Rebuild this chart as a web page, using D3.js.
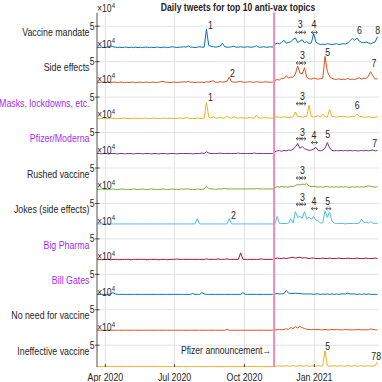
<!DOCTYPE html>
<html><head><meta charset="utf-8">
<script src="https://cdn.jsdelivr.net/npm/d3@7"></script>
<style>
body{margin:0;background:#fff}
svg text{font-family:"Liberation Sans Narrow","Arial Narrow","Liberation Sans",Arial,sans-serif;fill:#262626}
</style></head><body><svg id="c" width="382" height="382"></svg>
<script>
// ---------- DATA (values in thousands of tweets, one value every 3 days from 2020-03-21) ----------
const topics = ["Vaccine mandate","Side effects","Masks, lockdowns, etc.","Pfizer/Moderna","Rushed vaccine",
  "Jokes (side effects)","Big Pharma","Bill Gates","No need for vaccine","Ineffective vaccine"];
const startDate = "2020-03-21";
const endDate = "2021-03-27";
const stepDays = 3;
const vaccineMandate = [2,1,2,1,2,3,5,3,2,1, 2,1,2,2,1,2,1,2,1,2, 1,2,2,1,2,1,2,2,1,2, 2,1,2,3,2,1,2,2,3,2,
  5,2,2,1,2,3,2,2,43,6, 4,3,2,3,4,11,3,2,2,3, 4,2,2,3,2,2,3,2,2,3, 5,2,2,3,2,2,3,2,
  9,11,10,13,18,11,13,14,20,23, 13,16,19,12,15,10,12,33,14,10, 8,9,8,10,9,8,9,10,8,9,
  10,9,12,17,22,18,23,16,13,12, 14,12,10,12,14,26];
const sideEffects = [3,2,3,3,2,3,2,3,3,2, 3,3,2,3,2,3,3,2,3,3, 2,3,3,2,3,3,2,3,4,5, 3,3,2,3,3,2,3,3,4,3,
  5,3,3,2,3,3,3,2,4,3, 5,6,3,3,4,3,4,5,15,4, 3,3,4,5,3,3,3,4,3,3, 4,3,3,3,4,3,3,3,
  7,9,8,12,11,18,12,15,14,22, 40,24,22,36,14,11,10,12,11,10, 11,12,62,28,16,12,10,9,11,9,
  10,9,12,9,10,9,11,13,10,12, 11,17,27,18,10,11];
const masksLockdowns = [1,1,1,2,1,1,2,1,1,1, 1,1,2,1,1,1,1,2,1,1, 1,2,1,1,1,2,1,1,1,2, 1,1,2,1,1,1,2,2,1,3,
  2,1,1,1,2,1,1,2,37,5, 2,5,2,2,3,2,2,7,3,2, 5,2,2,3,2,2,2,3,2,2, 9,2,2,2,3,2,2,2,
  4,5,4,3,5,4,3,4,5,16, 5,6,4,5,6,31,5,4,6,7, 4,11,5,4,22,6,5,4,6,5,
  6,5,4,5,6,5,11,6,5,4, 4,5,4,3,4,5];
const pfizerModerna = [2,2,1,2,2,1,2,2,2,1, 2,2,1,2,2,2,1,2,2,2, 1,2,2,2,1,2,2,1,2,2, 2,1,2,2,2,1,2,2,2,2,
  2,2,1,2,2,2,3,2,6,3, 2,2,2,2,3,2,2,2,2,2, 2,2,3,2,2,2,2,2,2,3, 2,2,2,2,2,2,2,2,
  6,8,9,7,9,8,10,9,12,17, 25,14,18,13,11,9,10,12,16,9, 8,10,14,27,15,9,8,9,8,9,
  8,9,8,9,8,9,8,8,9,8, 9,8,9,10,8,9];
const rushedVaccine = [1,1,2,1,1,1,1,2,1,1, 1,2,1,1,1,1,2,1,1,1, 2,1,1,1,2,1,1,1,1,2, 1,1,1,2,1,1,1,2,1,2,
  2,1,1,1,2,1,1,2,8,3, 2,2,1,2,2,2,3,2,2,2, 2,2,2,2,2,2,2,2,2,2, 3,2,2,2,2,2,2,2,
  5,7,6,8,6,7,6,8,7,10, 12,11,13,12,14,9,7,8,7,6, 7,6,7,8,6,7,6,7,6,7,
  6,7,6,6,7,6,7,6,7,6, 8,9,8,7,6,7];
const jokesSideEffects = [3,3,3,3,3,3,3,3,3,3, 3,3,3,3,3,3,3,3,3,3, 3,3,3,3,3,3,3,3,3,3, 3,3,3,3,3,3,3,3,3,3,
  3,3,3,3,15,3,3,3,3,3, 3,3,3,3,3,3,3,3,15,3, 3,3,3,3,3,3,3,3,3,3, 3,3,3,3,3,3,3,3,
  3,20,4,4,4,4,5,15,5,31, 18,20,16,31,15,18,14,20,12,10, 5,6,33,18,30,10,5,4,4,4,
  4,3,4,4,4,4,4,5,14,6, 7,5,8,5,4,4];
const bigPharma = [3,3,2,3,3,3,2,3,3,3, 2,3,3,3,3,2,3,3,3,3, 3,3,2,3,3,3,3,2,3,3, 3,2,3,3,3,4,3,3,3,3,
  3,3,3,3,3,3,3,3,4,3, 3,3,3,4,3,3,3,4,3,3, 3,3,3,18,3,3,3,3,3,3, 3,3,4,3,3,3,3,3,
  5,6,5,5,6,5,6,7,8,6, 7,8,6,7,6,5,6,6,5,5, 5,6,5,5,6,5,5,5,6,5,
  5,5,6,5,5,5,6,5,5,5, 6,5,5,5,6,5];
const billGates = [4,4,4,4,4,4,5,8,5,4, 4,4,4,4,4,4,4,4,4,4, 4,4,4,4,4,4,4,4,4,4, 4,4,4,4,4,4,4,4,4,4,
  4,4,6,4,4,4,8,5,4,4, 4,4,4,4,4,4,4,4,4,4, 4,4,4,4,8,4,4,4,4,4, 4,4,4,4,4,4,4,4,
  5,6,5,5,6,13,7,6,6,7, 6,6,5,5,5,5,5,4,5,5, 4,5,4,5,4,5,4,5,4,5,
  5,5,7,5,5,5,4,5,4,5, 4,5,4,4,4,4];
const noNeedForVaccine = [3,3,3,3,3,3,3,3,3,3, 3,3,3,3,3,3,3,3,3,3, 3,3,3,3,3,3,3,3,3,3, 3,3,3,3,3,3,3,3,3,3,
  3,3,3,3,3,3,3,3,3,3, 3,3,3,3,3,3,3,5,3,3, 3,3,3,3,3,3,3,3,3,3, 3,3,3,3,3,3,3,3,
  4,4,5,4,5,6,5,9,7,11, 8,12,9,7,5,5,4,5,4,5, 4,4,5,4,4,5,4,5,4,4,
  4,5,4,4,4,4,4,5,4,4, 4,4,6,5,4,4];
const ineffectiveVaccine = [1,1,1,1,1,1,1,1,1,1, 1,1,1,1,1,1,1,1,1,1, 1,1,1,1,1,1,1,1,1,1, 1,1,1,1,1,1,1,1,1,1,
  1,1,1,1,1,1,1,1,1,1, 1,1,1,1,1,1,1,1,1,1, 1,1,1,1,1,1,1,1,1,1, 1,1,1,1,1,1,1,1,
  2,2,3,2,2,3,2,2,3,2, 2,3,2,2,3,2,2,3,2,3, 2,3,37,3,2,2,3,2,2,3,
  2,2,3,2,2,3,2,2,3,2, 2,3,2,2,3,12];
const seriesValues = [vaccineMandate, sideEffects, masksLockdowns, pfizerModerna, rushedVaccine,
  jokesSideEffects, bigPharma, billGates, noNeedForVaccine, ineffectiveVaccine];
const yTickValues = [50];           // thousands -> "5" x10^4
const yTickLabels = ["5"];
const xTickDates = ["2020-04-01","2020-07-01","2020-10-01","2021-01-01"];
const xTickLabels = ["Apr 2020","Jul 2020","Oct 2020","Jan 2021"];
const announcementDate = "2020-11-09";
const announcementText = "Pfizer announcement\u2192";
const titleText = "Daily tweets for top 10 anti-vax topics";
// event number labels: panel, text, date, level (thousands)
const eventLabels = [
  [0,"1","2020-08-18",52],[0,"3","2020-12-14",54],[0,"4","2021-01-01",54],[0,"6","2021-03-02",42],[0,"8","2021-03-26",42],
  [1,"2","2020-09-16",24],[1,"3","2020-12-17",65],[1,"5","2021-01-19",72],[1,"7","2021-03-21",46],
  [2,"1","2020-08-18",49],[2,"3","2020-12-17",51],[2,"6","2021-02-27",31],
  [3,"3","2020-12-17",51],[3,"4","2021-01-01",44],[3,"5","2021-01-19",46],[3,"7","2021-03-22",26],
  [4,"3","2020-12-17",45],
  [5,"2","2020-09-17",23],[5,"3","2020-12-17",65],[5,"4","2021-01-01",56],[5,"5","2021-01-19",56],
  [9,"5","2021-01-19",48],[9,"78","2021-03-24",25]
];
// event date ranges drawn as double arrows: panel, start, end, level (thousands), number of arrows
const eventRanges = [
  [0,"2020-12-07","2020-12-21",36,2],[0,"2020-12-28","2021-01-05",36,1],
  [1,"2020-12-08","2020-12-21",47,2],
  [2,"2020-12-08","2020-12-21",35,2],
  [3,"2020-12-08","2020-12-21",36,2],[3,"2020-12-28","2021-01-05",27,1],
  [4,"2020-12-08","2020-12-21",27,2],
  [5,"2020-12-08","2020-12-21",48,2],[5,"2020-12-28","2021-01-05",38,1],[5,"2021-01-16","2021-01-23",38,1]
];
const announcementLevel = 38;

// ---------- STYLE / LAYOUT ----------
const lineColors = ["#0072BD","#D95319","#EDB120","#7E2F8E","#77AC30","#4DBEEE","#A2142F","#0072BD","#D95319","#EDB120"];
const purpleTopics = new Set(["Masks, lockdowns, etc.","Pfizer/Moderna","Big Pharma","Bill Gates"]);
const purple = "#a62cf5", dark = "#262626", grid = "#e3e3e3", pink = "#f48ab3";
const narrow = 0.8;
const plotLeft = 97, plotRight = 379, plotTop = 12.6, panelH = 35.44, yMax = 81.3;
const nP = topics.length, plotBottom = plotTop + nP * panelH;
const parse = d3.timeParse("%Y-%m-%d");
const svg = d3.select("#c");
const x = d3.scaleTime().domain([parse(startDate), parse(endDate)]).range([plotLeft, plotRight]);
const yScales = topics.map((t, i) => d3.scaleLinear().domain([0, yMax]).range([plotTop + (i + 1) * panelH, plotTop + i * panelH]));
const start = parse(startDate);
function ntext(parent, px, py, size, anchor) {
  return parent.append("text").attr("transform", `translate(${px},${py}) scale(${narrow},1)`)
    .attr("font-size", size).attr("text-anchor", anchor || "start");
}

// vertical grid
svg.append("g").selectAll("line").data(xTickDates).join("line")
  .attr("x1", d => x(parse(d))).attr("x2", d => x(parse(d)))
  .attr("y1", plotTop).attr("y2", plotBottom).attr("stroke", grid).attr("stroke-width", 1);

topics.forEach((t, i) => {
  const y = yScales[i];
  const g = svg.append("g");
  g.selectAll("line.hg").data(yTickValues).join("line").attr("class","hg")
    .attr("x1", plotLeft).attr("x2", plotRight).attr("y1", d => y(d)).attr("y2", d => y(d))
    .attr("stroke", grid).attr("stroke-width", 1);
  g.selectAll("line.tk").data(yTickValues).join("line").attr("class","tk")
    .attr("x1", plotLeft - 2).attr("x2", plotLeft + 2.5).attr("y1", d => y(d)).attr("y2", d => y(d))
    .attr("stroke", dark).attr("stroke-width", 0.8);
  yTickValues.forEach((v, k) => ntext(g, plotLeft - 2.5, y(v) + 3.6, 10.8, "end").text(yTickLabels[k]));
  const ex = ntext(g, plotLeft, y(yMax) - 0.5, 10.8);
  ex.append("tspan").text("\u00d710");
  ex.append("tspan").attr("font-size", 7.5).attr("dy", -4.5).text("4");
  ntext(g, 89.5, (y(0) + y(yMax)) / 2 + 5.6, 11, "end")
    .style("fill", purpleTopics.has(t) ? purple : dark).text(t);
  const line = d3.line().x((d, j) => x(d3.timeDay.offset(start, j * stepDays))).y(d => y(d));
  g.append("path").datum(seriesValues[i]).attr("d", line).attr("fill","none")
    .attr("stroke", lineColors[i]).attr("stroke-width", 1).attr("stroke-linejoin","round");
});

// y axis line
svg.append("line").attr("x1", plotLeft).attr("x2", plotLeft).attr("y1", plotTop).attr("y2", plotBottom)
  .attr("stroke", dark).attr("stroke-width", 0.8);

// x ticks & labels
const xb = svg.append("g");
xb.selectAll("line").data(xTickDates).join("line")
  .attr("x1", d => x(parse(d))).attr("x2", d => x(parse(d))).attr("y1", plotBottom).attr("y2", plotBottom - 3)
  .attr("stroke", dark).attr("stroke-width", 0.8);
xTickDates.forEach((d, k) => ntext(xb, x(parse(d)), plotBottom + 13.5, 11, "middle").text(xTickLabels[k]));

// announcement line
const ax = x(parse(announcementDate));
svg.append("line").attr("x1", ax).attr("x2", ax).attr("y1", plotTop).attr("y2", plotBottom)
  .attr("stroke", pink).attr("stroke-width", 2);
ntext(svg, ax - 3, yScales[9](announcementLevel) + 3.6, 10.8, "end").text(announcementText);

// event labels
const eg = svg.append("g");
eventLabels.forEach(d => ntext(eg, x(parse(d[2]))-0.5, yScales[d[0]](d[3]) + 3.8, 11, "middle").text(d[1]));
// event ranges as double arrows
const ag = svg.append("g").attr("fill","none").attr("stroke", dark).attr("stroke-width", 0.7);
eventRanges.forEach(d => {
  const x1 = x(parse(d[1])), x2 = x(parse(d[2])), yy = yScales[d[0]](d[3]);
  const n = d[4], w = (x2 - x1) / n;
  for (let k = 0; k < n; k++) {
    const a = x1 + k * w, b = a + w;
    ag.append("path").attr("d",
      `M${a},${yy}H${b}M${a + 1.8},${yy - 1.6}L${a},${yy}L${a + 1.8},${yy + 1.6}M${b - 1.8},${yy - 1.6}L${b},${yy}L${b - 1.8},${yy + 1.6}`);
  }
});

// title
ntext(svg, (plotLeft + plotRight) / 2, 11, 10.8, "middle").attr("font-weight","bold").text(titleText);
</script></body></html>
